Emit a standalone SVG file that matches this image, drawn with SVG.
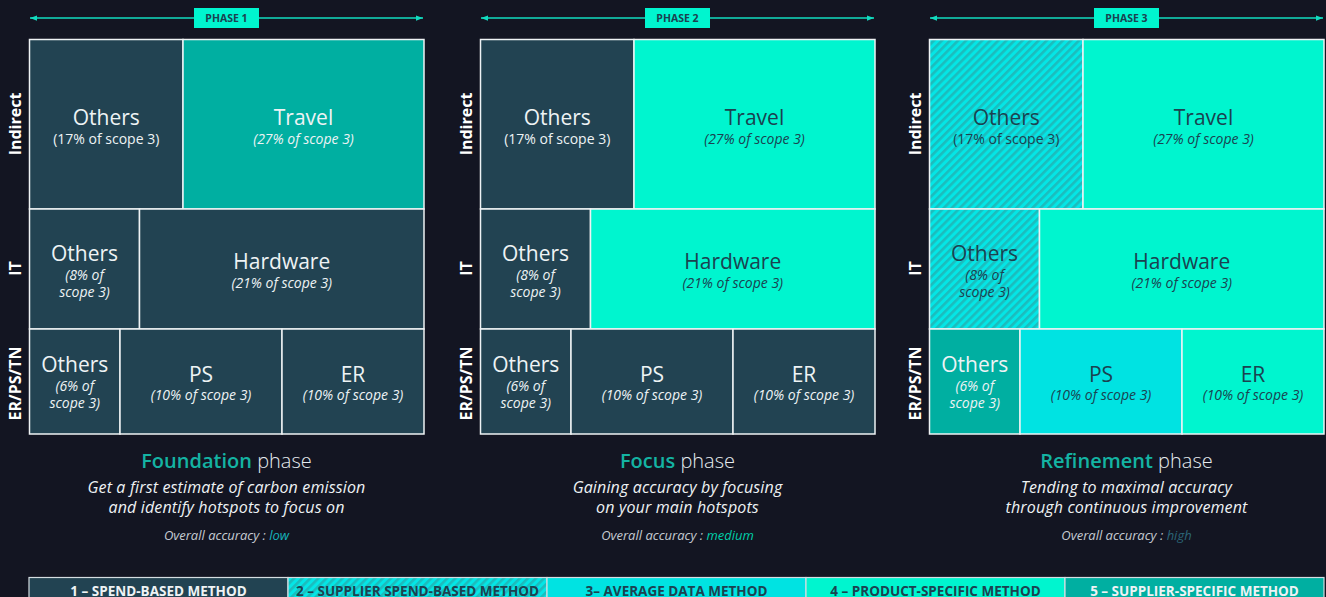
<svg xmlns="http://www.w3.org/2000/svg" width="1326" height="597" viewBox="0 0 1326 597">
  <defs>
    <!-- diagonal stripes for the supplier spend-based method -->
    <pattern id="hatch" patternUnits="userSpaceOnUse" width="5.7" height="10" patternTransform="rotate(45)">
      <rect width="5.7" height="10" fill="#04e6e6"/>
      <rect width="2.6" height="10" fill="#1cbcbd"/>
    </pattern>
    <marker id="arrowhead" viewBox="0 0 8 8" refX="8" refY="4" markerUnits="userSpaceOnUse" markerWidth="7" markerHeight="7" orient="auto-start-reverse">
      <path d="M0,1 L8,4 L0,7 z" fill="#12dcc0"/>
    </marker>
  </defs>
  <style>
    text { font-family: "Open Sans", "Noto Sans", "DejaVu Sans", sans-serif; }
    .cell { stroke: #eef2f4; stroke-width: 1.5; }
    .dark { fill: #224352; }
    .teal { fill: #00afa1; }
    .mint { fill: #00f5cf; }
    .cyan { fill: #00e3e2; }
    .hatch { fill: url(#hatch); }
    .t { font-size: 21px; text-anchor: middle; }
    .s { font-size: 14px; text-anchor: middle; }
    .i { font-style: italic; }
    .w { fill: #eef3f5; }
    .d { fill: #1b4250; }
    .row { font-size: 16px; font-weight: 700; fill: #ffffff; text-anchor: middle; }
    .arrow { stroke: #12dcc0; stroke-width: 1.5; fill: none; marker-start: url(#arrowhead); marker-end: url(#arrowhead); }
    .tag { fill: #00f5cf; }
    .tagtxt { font-size: 10.5px; font-weight: 700; fill: #1b4250; text-anchor: middle; }
    .head { font-size: 20px; text-anchor: middle; fill: #e6ecef; font-weight: 300; }
    .hl { font-weight: 600; fill: #14b3a3; }
    .desc { font-size: 16px; font-style: italic; font-weight: 400; fill: #eef2f4; text-anchor: middle; letter-spacing: 0.15px; }
    .acc { font-size: 13px; font-style: italic; font-weight: 400; fill: #c5cbd2; text-anchor: middle; }
    .leg { stroke: #d5dde1; stroke-width: 1.2; }
    .legtxt { font-size: 13.5px; font-weight: 700; text-anchor: middle; }
  </style>

  <rect width="1326" height="597" fill="#131522"/>

  <!-- phase arrows -->
  <g id="connectors">
    <line class="arrow" x1="30" y1="18" x2="423" y2="18"/>
    <line class="arrow" x1="481" y1="18" x2="874" y2="18"/>
    <line class="arrow" x1="930" y1="18" x2="1323" y2="18"/>
  </g>

  <!-- ================= PHASE 1 ================= -->
  <g id="phase1">
    <g id="p1-tag">
      <rect class="tag" x="194" y="8" width="65" height="20"/>
      <text class="tagtxt" x="226.5" y="21.7">PHASE 1</text>
    </g>
    <g id="p1-rows">
      <text class="row" transform="translate(21,124) rotate(-90)">Indirect</text>
      <text class="row" transform="translate(21,268.5) rotate(-90)">IT</text>
      <text class="row" transform="translate(21,383.5) rotate(-90)">ER/PS/TN</text>
    </g>
    <g id="p1-indirect-others">
      <rect class="cell dark" x="29.5" y="39.5" width="153.5" height="169.5"/>
      <text class="t w" x="106.25" y="125">Others</text>
      <text class="s w" x="106.25" y="143.5">(17% of scope 3)</text>
    </g>
    <g id="p1-travel">
      <rect class="cell teal" x="183" y="39.5" width="241" height="169.5"/>
      <text class="t w" x="303.5" y="125">Travel</text>
      <text class="s i w" x="303.5" y="143.5">(27% of scope 3)</text>
    </g>
    <g id="p1-it-others">
      <rect class="cell dark" x="29.5" y="209" width="110" height="120"/>
      <text class="t w" x="84.5" y="260.5">Others</text>
      <text class="s i w" x="84.5" y="279.5">(8% of</text>
      <text class="s i w" x="84.5" y="296.5">scope 3)</text>
    </g>
    <g id="p1-hardware">
      <rect class="cell dark" x="139.5" y="209" width="284.5" height="120"/>
      <text class="t w" x="281.75" y="269">Hardware</text>
      <text class="s i w" x="281.75" y="288">(21% of scope 3)</text>
    </g>
    <g id="p1-er-others">
      <rect class="cell dark" x="29.5" y="329" width="90.5" height="105"/>
      <text class="t w" x="74.75" y="372">Others</text>
      <text class="s i w" x="74.75" y="391">(6% of</text>
      <text class="s i w" x="74.75" y="408">scope 3)</text>
    </g>
    <g id="p1-ps">
      <rect class="cell dark" x="120" y="329" width="162" height="105"/>
      <text class="t w" x="201" y="381.5">PS</text>
      <text class="s i w" x="201" y="400">(10% of scope 3)</text>
    </g>
    <g id="p1-er">
      <rect class="cell dark" x="282" y="329" width="142" height="105"/>
      <text class="t w" x="353" y="381.5">ER</text>
      <text class="s i w" x="353" y="400">(10% of scope 3)</text>
    </g>
    <g id="p1-caption">
      <text class="head" x="226.5" y="468"><tspan class="hl">Foundation</tspan> phase</text>
      <text class="desc" x="226.5" y="493">Get a first estimate of carbon emission</text>
      <text class="desc" x="226.5" y="513">and identify hotspots to focus on</text>
      <text class="acc" x="226.5" y="540">Overall accuracy : <tspan fill="#15b6bc">low</tspan></text>
    </g>
  </g>

  <!-- ================= PHASE 2 ================= -->
  <g id="phase2" transform="translate(451,0)">
    <g id="p2-tag">
      <rect class="tag" x="194" y="8" width="65" height="20"/>
      <text class="tagtxt" x="226.5" y="21.7">PHASE 2</text>
    </g>
    <g id="p2-rows">
      <text class="row" transform="translate(21,124) rotate(-90)">Indirect</text>
      <text class="row" transform="translate(21,268.5) rotate(-90)">IT</text>
      <text class="row" transform="translate(21,383.5) rotate(-90)">ER/PS/TN</text>
    </g>
    <g id="p2-indirect-others">
      <rect class="cell dark" x="29.5" y="39.5" width="153.5" height="169.5"/>
      <text class="t w" x="106.25" y="125">Others</text>
      <text class="s w" x="106.25" y="143.5">(17% of scope 3)</text>
    </g>
    <g id="p2-travel">
      <rect class="cell mint" x="183" y="39.5" width="241" height="169.5"/>
      <text class="t d" x="303.5" y="125">Travel</text>
      <text class="s i d" x="303.5" y="143.5">(27% of scope 3)</text>
    </g>
    <g id="p2-it-others">
      <rect class="cell dark" x="29.5" y="209" width="110" height="120"/>
      <text class="t w" x="84.5" y="260.5">Others</text>
      <text class="s i w" x="84.5" y="279.5">(8% of</text>
      <text class="s i w" x="84.5" y="296.5">scope 3)</text>
    </g>
    <g id="p2-hardware">
      <rect class="cell mint" x="139.5" y="209" width="284.5" height="120"/>
      <text class="t d" x="281.75" y="269">Hardware</text>
      <text class="s i d" x="281.75" y="288">(21% of scope 3)</text>
    </g>
    <g id="p2-er-others">
      <rect class="cell dark" x="29.5" y="329" width="90.5" height="105"/>
      <text class="t w" x="74.75" y="372">Others</text>
      <text class="s i w" x="74.75" y="391">(6% of</text>
      <text class="s i w" x="74.75" y="408">scope 3)</text>
    </g>
    <g id="p2-ps">
      <rect class="cell dark" x="120" y="329" width="162" height="105"/>
      <text class="t w" x="201" y="381.5">PS</text>
      <text class="s i w" x="201" y="400">(10% of scope 3)</text>
    </g>
    <g id="p2-er">
      <rect class="cell dark" x="282" y="329" width="142" height="105"/>
      <text class="t w" x="353" y="381.5">ER</text>
      <text class="s i w" x="353" y="400">(10% of scope 3)</text>
    </g>
    <g id="p2-caption">
      <text class="head" x="226.5" y="468"><tspan class="hl">Focus</tspan> phase</text>
      <text class="desc" x="226.5" y="493">Gaining accuracy by focusing</text>
      <text class="desc" x="226.5" y="513">on your main hotspots</text>
      <text class="acc" x="226.5" y="540">Overall accuracy : <tspan fill="#00cfa9">medium</tspan></text>
    </g>
  </g>

  <!-- ================= PHASE 3 ================= -->
  <g id="phase3" transform="translate(900,0)">
    <g id="p3-tag">
      <rect class="tag" x="194" y="8" width="65" height="20"/>
      <text class="tagtxt" x="226.5" y="21.7">PHASE 3</text>
    </g>
    <g id="p3-rows">
      <text class="row" transform="translate(21,124) rotate(-90)">Indirect</text>
      <text class="row" transform="translate(21,268.5) rotate(-90)">IT</text>
      <text class="row" transform="translate(21,383.5) rotate(-90)">ER/PS/TN</text>
    </g>
    <g id="p3-indirect-others">
      <rect class="cell hatch" x="29.5" y="39.5" width="153.5" height="169.5"/>
      <text class="t d" x="106.25" y="125">Others</text>
      <text class="s d" x="106.25" y="143.5">(17% of scope 3)</text>
    </g>
    <g id="p3-travel">
      <rect class="cell mint" x="183" y="39.5" width="241" height="169.5"/>
      <text class="t d" x="303.5" y="125">Travel</text>
      <text class="s i d" x="303.5" y="143.5">(27% of scope 3)</text>
    </g>
    <g id="p3-it-others">
      <rect class="cell hatch" x="29.5" y="209" width="110" height="120"/>
      <text class="t d" x="84.5" y="260.5">Others</text>
      <text class="s i d" x="84.5" y="279.5">(8% of</text>
      <text class="s i d" x="84.5" y="296.5">scope 3)</text>
    </g>
    <g id="p3-hardware">
      <rect class="cell mint" x="139.5" y="209" width="284.5" height="120"/>
      <text class="t d" x="281.75" y="269">Hardware</text>
      <text class="s i d" x="281.75" y="288">(21% of scope 3)</text>
    </g>
    <g id="p3-er-others">
      <rect class="cell teal" x="29.5" y="329" width="90.5" height="105"/>
      <text class="t w" x="74.75" y="372">Others</text>
      <text class="s i w" x="74.75" y="391">(6% of</text>
      <text class="s i w" x="74.75" y="408">scope 3)</text>
    </g>
    <g id="p3-ps">
      <rect class="cell cyan" x="120" y="329" width="162" height="105"/>
      <text class="t d" x="201" y="381.5">PS</text>
      <text class="s i d" x="201" y="400">(10% of scope 3)</text>
    </g>
    <g id="p3-er">
      <rect class="cell mint" x="282" y="329" width="142" height="105"/>
      <text class="t d" x="353" y="381.5">ER</text>
      <text class="s i d" x="353" y="400">(10% of scope 3)</text>
    </g>
    <g id="p3-caption">
      <text class="head" x="226.5" y="468"><tspan class="hl">Refinement</tspan> phase</text>
      <text class="desc" x="226.5" y="493">Tending to maximal accuracy</text>
      <text class="desc" x="226.5" y="513">through continuous improvement</text>
      <text class="acc" x="226.5" y="540">Overall accuracy : <tspan fill="#2b6577">high</tspan></text>
    </g>
  </g>

  <!-- ================= METHOD LEGEND ================= -->
  <g id="legend">
    <g id="legend-1">
      <rect class="leg dark" x="29" y="577.5" width="259" height="30"/>
      <text class="legtxt w" x="158.5" y="595.5">1 – SPEND-BASED METHOD</text>
    </g>
    <g id="legend-2">
      <rect class="leg hatch" x="288" y="577.5" width="259" height="30"/>
      <text class="legtxt d" x="417.5" y="595.5">2 – SUPPLIER SPEND-BASED METHOD</text>
    </g>
    <g id="legend-3">
      <rect class="leg cyan" x="547" y="577.5" width="259" height="30"/>
      <text class="legtxt d" x="676.5" y="595.5">3– AVERAGE DATA METHOD</text>
    </g>
    <g id="legend-4">
      <rect class="leg mint" x="806" y="577.5" width="259" height="30"/>
      <text class="legtxt d" x="935.5" y="595.5">4 – PRODUCT-SPECIFIC METHOD</text>
    </g>
    <g id="legend-5">
      <rect class="leg teal" x="1065" y="577.5" width="259" height="30"/>
      <text class="legtxt w" x="1194.5" y="595.5">5 – SUPPLIER-SPECIFIC METHOD</text>
    </g>
  </g>
</svg>
